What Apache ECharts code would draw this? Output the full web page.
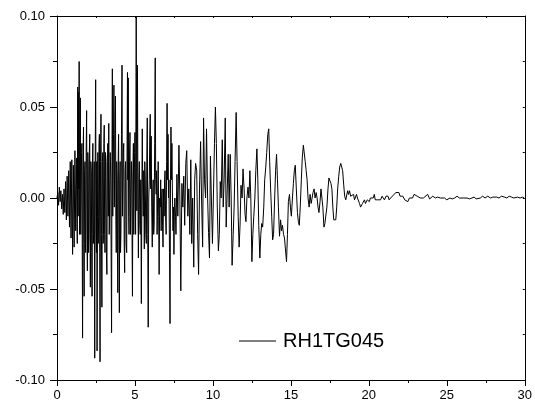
<!DOCTYPE html>
<html>
<head>
<meta charset="utf-8">
<script src="https://cdn.jsdelivr.net/npm/echarts@6/dist/echarts.min.js"></script>
<style>
html,body{margin:0;padding:0;background:#fff;}
#chart{width:535px;height:408px;}
</style>
</head>
<body>
<div id="chart"></div>
<script>
// Time (s) / acceleration pairs, split by time window
var seg0to5 = [
[0,0],[0.05,0.003],[0.1,-0.004],[0.15,0.006],[0.2,-0.002],[0.25,0.004],[0.3,-0.006],[0.35,0.002],[0.4,-0.009],[0.45,0.005],
[0.5,-0.008],[0.55,0.009],[0.6,-0.012],[0.65,0.012],[0.7,-0.01],[0.75,0.015],[0.8,-0.016],[0.85,0.02],[0.9,-0.022],[0.95,0.021],
[1.0,-0.031],[1.05,0.018],[1.1,-0.027],[1.15,0.026],[1.2,-0.018],[1.25,0.022],[1.3,-0.025],
[1.33,0.061],[1.355,-0.01],[1.38,0.058],[1.40,0.005],[1.42,0.075],[1.445,-0.02],[1.47,-0.01],[1.485,0.04],[1.5,0.055],
[1.525,-0.02],[1.55,-0.02],[1.575,0.025],[1.6,0.03],[1.62,-0.03],[1.64,-0.077],[1.67,0.02],[1.7,0.039],[1.72,-0.025],[1.74,-0.054],
[1.77,0.015],[1.8,0.02],[1.82,-0.025],[1.84,-0.03],[1.87,0.025],[1.9,0.048],[1.925,-0.02],[1.95,-0.04],[1.975,0.025],[2.0,0.018],
[2.025,-0.03],[2.05,-0.02],[2.075,0.025],[2.1,0.035],[2.12,-0.02],[2.14,-0.049],[2.17,0.02],[2.2,0.015],[2.225,-0.03],[2.25,-0.054],
[2.275,0.02],[2.3,0.03],[2.325,-0.025],[2.35,-0.02],[2.385,0.02],[2.42,-0.088],[2.45,0.02],[2.48,0.065],[2.505,-0.02],[2.53,-0.03],
[2.55,0.02],[2.57,-0.084],[2.595,-0.01],[2.62,0.025],[2.645,-0.025],[2.67,-0.01],[2.695,0.03],[2.72,0.035],[2.74,-0.03],[2.76,-0.090],
[2.79,0.02],[2.82,0.046],[2.85,-0.02],[2.88,-0.060],[2.91,0.02],[2.94,0.025],[2.96,-0.025],[2.98,-0.02],[3.005,0.03],[3.03,0.04],
[3.055,-0.02],[3.08,-0.03],[3.11,0.025],[3.14,0.02],[3.17,-0.03],[3.2,-0.042],[3.23,0.02],[3.26,0.03],[3.29,-0.01],[3.32,0.041],
[3.35,-0.02],[3.38,-0.02],[3.415,0.025],[3.45,0.01],[3.475,-0.035],[3.50,-0.074],[3.525,0.02],[3.55,0.071],[3.575,-0.01],[3.6,-0.01],
[3.625,0.035],[3.65,0.062],[3.675,-0.005],[3.7,0.02],[3.725,0.045],[3.75,0.056],[3.775,-0.01],[3.8,-0.03],[3.83,0.02],[3.86,0.01],
[3.88,-0.03],[3.9,-0.052],[3.925,0.02],[3.95,0.035],[3.975,-0.02],[4.0,-0.063],[4.025,0.01],[4.05,0.02],[4.075,-0.03],[4.1,-0.02],
[4.135,0.035],[4.17,0.073],[4.195,-0.01],[4.22,-0.01],[4.25,0.025],[4.28,0.03],[4.31,-0.025],[4.34,-0.041],[4.37,0.015],[4.4,0.02],
[4.435,-0.025],[4.47,-0.03],[4.495,0.03],[4.52,0.069],[4.545,0.01],[4.57,0.066],[4.595,-0.01],[4.62,-0.02],[4.65,0.02],[4.68,0.036],
[4.71,-0.02],[4.74,-0.02],[4.77,0.02],[4.8,0.01],[4.82,-0.03],[4.84,-0.054],[4.87,0.015],[4.9,0.03],[4.925,-0.02],[4.95,-0.02],
[4.975,0.025],[5.0,0.036]
];
var seg5to10 = [
[5.04,-0.02],[5.08,0.10],[5.12,-0.007],[5.16,0.073],[5.19,0.0],[5.22,-0.033],[5.25,0.01],[5.28,0.02],[5.31,-0.015],[5.34,-0.02],
[5.375,0.01],[5.41,-0.058],[5.44,0.0],[5.47,0.038],[5.5,0.005],[5.53,-0.01],[5.565,0.015],[5.6,-0.028],[5.63,0.02],[5.66,0.01],
[5.695,-0.02],[5.73,-0.025],[5.76,0.02],[5.79,0.044],[5.82,-0.02],[5.85,-0.071],[5.885,0.0],[5.92,0.01],[5.95,0.035],[5.98,0.046],
[6.01,0.005],[6.04,0.034],[6.075,-0.005],[6.11,-0.027],[6.14,0.005],[6.17,0.01],[6.2,-0.02],[6.23,-0.015],[6.265,0.03],[6.30,0.077],
[6.33,0.01],[6.36,0.002],[6.39,0.015],[6.42,-0.02],[6.455,0.0],[6.49,0.020],[6.52,-0.01],[6.55,-0.042],[6.585,0.0],[6.62,-0.005],
[6.65,0.01],[6.68,-0.018],[6.71,0.0],[6.74,0.005],[6.77,-0.015],[6.8,-0.027],[6.835,0.005],[6.87,-0.01],[6.9,0.01],[6.93,0.015],
[6.965,-0.01],[7.0,-0.02],[7.03,0.02],[7.06,0.052],[7.09,0.01],[7.12,0.035],[7.15,0.0],[7.18,0.01],[7.215,-0.03],[7.25,-0.069],
[7.28,0.01],[7.31,0.039],[7.34,0.01],[7.37,0.03],[7.405,0.0],[7.44,-0.018],[7.47,-0.005],[7.5,-0.031],[7.53,-0.005],[7.56,0.0],
[7.6,-0.01],[7.63,-0.02],[7.69,0.013],[7.75,-0.01],[7.82,0.029],[7.88,0.0],[7.94,-0.051],[8.01,0.008],[8.07,-0.005],[8.13,0.012],
[8.19,-0.015],[8.26,0.019],[8.32,0.026],[8.39,-0.01],[8.45,0.005],[8.52,-0.02],[8.58,0.021],[8.64,-0.025],[8.7,0.0],[8.77,-0.038],
[8.83,0.01],[8.89,0.019],[8.96,0.015],[9.02,-0.02],[9.08,-0.042],[9.14,0.005],[9.21,0.031],[9.27,0.0],[9.34,-0.027],[9.40,0.044],
[9.46,0.01],[9.53,0.0],[9.59,0.038],[9.66,0.0],[9.72,-0.019],[9.78,-0.033],[9.84,0.023],[9.9,0.0],[9.97,-0.025]
];
var seg10to15 = [
[10.04,0.005],[10.1,0.03],[10.16,0.050],[10.22,0.03],[10.28,-0.005],[10.35,-0.029],[10.41,-0.02],[10.47,0.009],[10.53,0.0],[10.60,0.032],
[10.66,-0.005],[10.72,0.01],[10.79,0.044],[10.85,-0.016],[10.92,0.005],[10.98,0.024],[11.04,-0.005],[11.11,0.024],[11.17,0.0],[11.23,-0.037],
[11.3,-0.02],[11.36,-0.005],[11.42,0.02],[11.49,0.047],[11.55,0.02],[11.62,-0.01],[11.68,-0.027],[11.74,-0.015],[11.80,0.007],[11.87,0.0],
[11.93,0.016],[12.0,0.005],[12.06,-0.009],[12.12,-0.013],[12.18,0.0],[12.25,0.006],[12.31,0.0],[12.37,0.015],[12.43,0.0],[12.50,-0.035],
[12.56,-0.02],[12.62,-0.01],[12.69,0.0],[12.75,0.015],[12.82,0.027],[12.88,0.01],[12.94,-0.015],[13.01,-0.033],[13.07,-0.02],[13.13,-0.014],
[13.19,-0.016],[13.26,-0.005],[13.32,0.01],[13.39,0.017],[13.45,0.025],[13.52,0.035],[13.58,0.038],[13.64,0.02],[13.70,0.005],[13.77,-0.01],
[13.83,-0.023],[13.89,-0.02],[13.96,0.0],[14.02,0.015],[14.08,0.024],[14.14,0.01],[14.2,-0.005],[14.27,-0.021],[14.34,-0.012],[14.4,-0.018],
[14.46,-0.015],[14.53,-0.02],[14.59,-0.022],[14.65,-0.028],[14.72,-0.035],[14.78,-0.02],[14.84,-0.002],[14.91,0.002],[14.97,-0.005],[15.03,-0.010]
];
var seg15to20 = [
[15.1,0.0],[15.16,0.008],[15.22,0.015],[15.28,0.018],[15.35,0.005],[15.42,-0.008],[15.48,-0.013],[15.54,-0.015],[15.6,-0.005],[15.67,0.01],
[15.73,0.022],[15.8,0.029],[15.85,0.030],[15.92,0.02],[15.98,0.015],[16.04,0.010],[16.1,0.0],[16.17,-0.005],[16.23,0.002],[16.3,-0.003],
[16.36,0.0],[16.42,0.003],[16.49,0.005],[16.55,0.0],[16.62,0.003],[16.68,0.0],[16.74,-0.005],[16.80,-0.008],[16.87,-0.002],[16.93,0.005],
[16.99,0.006],[17.05,-0.005],[17.12,-0.016],[17.18,-0.014],[17.25,-0.015],[17.31,-0.005],[17.38,0.005],[17.44,0.011],[17.50,0.012],[17.57,0.008],
[17.63,0.005],[17.69,-0.005],[17.75,-0.012],[17.82,-0.013],[17.88,-0.012],[17.94,-0.005],[18.0,0.005],[18.07,0.012],[18.13,0.017],[18.20,0.019],
[18.26,0.017],[18.32,0.015],[18.39,0.007],[18.45,0.001],[18.52,-0.001],[18.58,0.0],[18.64,0.004],[18.70,0.002],[18.76,0.004],[18.83,0.001],
[18.89,0.0],[18.95,0.001],[19.02,0.002],[19.08,-0.001],[19.15,0.0],[19.21,0.002],[19.27,0.0],[19.34,0.001],[19.4,-0.003],[19.47,-0.005],
[19.53,-0.0055],[19.59,-0.003],[19.65,-0.004],[19.72,-0.001],[19.78,-0.003],[19.84,-0.002],[19.9,-0.001],[19.97,0.0]
];
var seg20to30 = [
[20.03,-0.002],[20.1,0.0],[20.16,-0.001],[20.22,0.001],[20.28,0.0],[20.35,0.002],[20.41,-0.001],[20.47,0.0],[20.55,-0.001],[20.66,0.0],
[20.75,-0.001],[20.85,0.001],[20.92,0.0],[21.0,-0.001],[21.1,0.001],[21.23,0.001],[21.3,-0.001],[21.42,0.0],[21.5,0.001],[21.6,0.002],
[21.74,0.003],[21.85,0.004],[21.93,0.003],[22.0,0.001],[22.1,0.002],[22.18,0.001],[22.3,-0.001],[22.4,0.0],[22.5,-0.002],[22.6,0.0],
[22.69,0.001],[22.8,0.0],[22.9,0.002],[23.01,0.002],[23.1,0.001],[23.2,0.002],[23.3,0.0],[23.4,0.001],[23.5,0.0],[23.6,0.001],
[23.77,0.002],[23.9,-0.0005],[24.0,0.0],[24.1,0.001],[24.27,0.0],[24.4,0.0005],[24.5,-0.0005],[24.6,0.0],[24.72,-0.001],[24.85,0.0],
[25.0,-0.001],[25.09,-0.001],[25.2,0.0],[25.35,-0.0005],[25.5,0.0],[25.66,0.001],[25.8,0.0],[25.9,-0.0005],[26.05,0.0],[26.17,-0.001],
[26.3,0.0],[26.45,-0.0005],[26.61,0.0],[26.75,0.0005],[26.88,-0.0005],[26.99,0.0005],[27.15,0.0],[27.3,0.001],[27.45,0.0],[27.63,0.001],
[27.8,0.0],[27.95,0.0005],[28.05,0.0],[28.2,0.0005],[28.35,0.0],[28.5,0.001],[28.7,0.0005],[28.85,0.0],[29.0,0.001],[29.15,0.0005],
[29.3,0.0],[29.53,0.0005],[29.7,0.0],[29.85,0.0005],[29.97,0.0]
];
var seriesName = 'RH1TG045';
var xTicks = [0, 5, 10, 15, 20, 25, 30];
var yTicks = [-0.10, -0.05, 0.00, 0.05, 0.10];

var allData = seg0to5.concat(seg5to10, seg10to15, seg15to20, seg20to30);

var chart = echarts.init(document.getElementById('chart'), null, {renderer: 'canvas'});
var font = 'Arial, "Liberation Sans", sans-serif';
var axisCommon = {
  axisLine: {show: true, onZero: false, lineStyle: {color: '#000', width: 1}},
  splitLine: {show: false}
};
chart.setOption({
  animation: false,
  backgroundColor: '#fff',
  grid: {left: 57, right: 5, top: 16, bottom: 28, containLabel: false},
  legend: {
    show: true, left: 239, top: 331, padding: 0,
    data: [{name: seriesName, icon: 'rect'}],
    itemWidth: 37, itemHeight: 1, itemGap: 0,
    textStyle: {fontFamily: font, fontSize: 20, color: '#000', padding: [0, 0, 0, 2]}
  },
  xAxis: [
    Object.assign({}, axisCommon, {
      type: 'value', min: xTicks[0], max: xTicks[xTicks.length - 1], interval: 5, position: 'bottom',
      axisTick: {show: true, inside: false, length: 6, lineStyle: {color: '#000'}},
      minorTick: {show: true, splitNumber: 2, length: 3, lineStyle: {color: '#000'}},
      axisLabel: {show: true, margin: 9, fontFamily: font, fontSize: 13, color: '#000',
        formatter: function (v) { return String(v); }, showMaxLabel: true}
    }),
    Object.assign({}, axisCommon, {
      type: 'value', min: xTicks[0], max: xTicks[xTicks.length - 1], interval: 5, position: 'top',
      axisTick: {show: true, inside: true, length: 2, lineStyle: {color: '#000'}},
      minorTick: {show: true, splitNumber: 2, length: 2, lineStyle: {color: '#000'}},
      axisLabel: {show: false}
    })
  ],
  yAxis: [
    Object.assign({}, axisCommon, {
      type: 'value', min: yTicks[0], max: yTicks[yTicks.length - 1], interval: 0.05, position: 'left',
      axisTick: {show: true, inside: false, length: 7, lineStyle: {color: '#000'}},
      minorTick: {show: true, splitNumber: 2, length: 4, lineStyle: {color: '#000'}},
      axisLabel: {show: true, margin: 12, fontFamily: font, fontSize: 13, color: '#000',
        formatter: function (v) { return v.toFixed(2); }}
    }),
    Object.assign({}, axisCommon, {
      type: 'value', min: yTicks[0], max: yTicks[yTicks.length - 1], interval: 0.05, position: 'right',
      axisTick: {show: true, inside: true, length: 2, lineStyle: {color: '#000'}},
      minorTick: {show: true, splitNumber: 2, length: 2, lineStyle: {color: '#000'}},
      axisLabel: {show: false}
    })
  ],
  series: [{
    name: seriesName, type: 'line', xAxisIndex: 0, yAxisIndex: 0,
    data: allData, showSymbol: false, symbol: 'none', smooth: false,
    clip: true,
    lineStyle: {color: '#000', width: 1},
    itemStyle: {color: '#000'}
  }]
});
</script>
</body>
</html>
